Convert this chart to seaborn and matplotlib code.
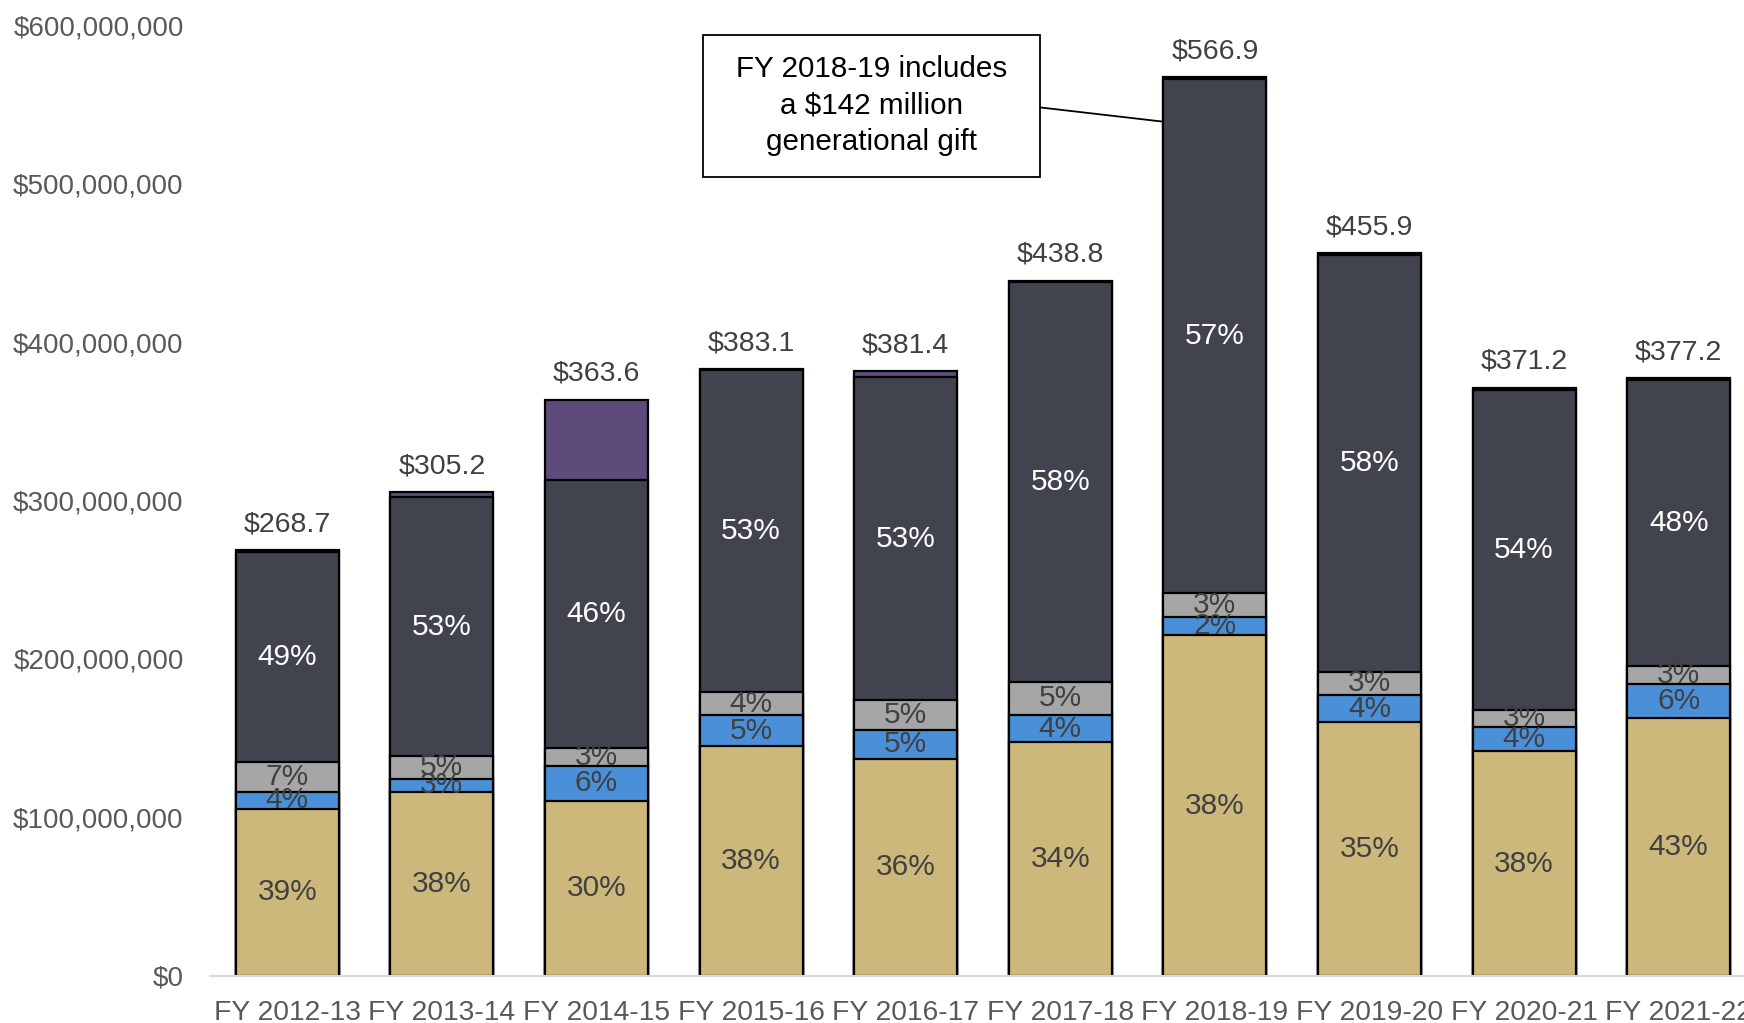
import matplotlib
matplotlib.use("Agg")
import matplotlib.pyplot as plt
from matplotlib.patches import Rectangle
from matplotlib.ticker import FuncFormatter, MultipleLocator
import seaborn as sns
import numpy as np
import pandas as pd

# ---------------- data (millions of dollars) ----------------
years = ["FY 2012-13", "FY 2013-14", "FY 2014-15", "FY 2015-16", "FY 2016-17",
         "FY 2017-18", "FY 2018-19", "FY 2019-20", "FY 2020-21", "FY 2021-22"]
tan_vals = [105.4, 116.0, 110.6, 145.0, 137.0, 147.5, 215.0, 160.0, 141.8, 162.5]
blue_vals = [10.9, 8.6, 22.1, 19.5, 18.5, 17.3, 11.5, 17.3, 15.5, 21.5]
gray_vals = [18.9, 14.0, 11.3, 14.5, 18.5, 21.0, 15.0, 14.7, 10.5, 11.8]
dark_vals = [132.5, 163.6, 168.9, 203.1, 203.9, 252.0, 324.4, 263.1, 201.9, 180.4]
purple_vals = [1.0, 3.0, 50.7, 1.0, 3.5, 1.0, 1.0, 0.8, 1.5, 1.0]

tan_pct = [39, 38, 30, 38, 36, 34, 38, 35, 38, 43]
blue_pct = [4, 3, 6, 5, 5, 4, 2, 4, 4, 6]
gray_pct = [7, 5, 3, 4, 5, 5, 3, 3, 3, 3]
dark_pct = [49, 53, 46, 53, 53, 58, 57, 58, 54, 48]

note_text = "FY 2018-19 includes\na $142 million\ngenerational gift"

# ---------------- styling ----------------
sns.set_style("white")
plt.rcParams["font.family"] = ["Liberation Sans", "DejaVu Sans"]

C_TAN = "#CDB87C"
C_BLUE = "#4A90D9"
C_GRAY = "#A5A6A5"
C_DARK = "#41444F"
C_PURPLE = "#5F4B7B"
TXT_DARK = "#404040"
TXT_TICK = "#595959"

segments = [
    ("tan", tan_vals, C_TAN, tan_pct, TXT_DARK),
    ("blue", blue_vals, C_BLUE, blue_pct, TXT_DARK),
    ("gray", gray_vals, C_GRAY, gray_pct, TXT_DARK),
    ("dark", dark_vals, C_DARK, dark_pct, "white"),
    ("purple", purple_vals, C_PURPLE, None, None),
]

M = 1e6
df = pd.DataFrame({"year": years})
cum = np.zeros(len(years))
bottoms = {}
for name, vals, color, pct, tc in segments:
    bottoms[name] = cum.copy()
    cum = cum + np.array(vals)
    df["cum_" + name] = cum * M
totals = cum

fig = plt.figure(figsize=(17.44, 10.23), dpi=100)
ax = fig.add_axes([210 / 1744, 47 / 1023, 1534 / 1744, 951 / 1023])

BAR_W = 0.667
for name, vals, color, pct, tc in reversed(segments):
    sns.barplot(data=df, x="year", y="cum_" + name, order=years, color=color,
                saturation=1, width=BAR_W, edgecolor="black", linewidth=1.6,
                errorbar=None, ax=ax)

# percentage labels
for name, vals, color, pct, tc in segments:
    if pct is None:
        continue
    for i, (v, p) in enumerate(zip(vals, pct)):
        yc = (bottoms[name][i] + v / 2) * M
        ax.text(i, yc, f"{p}%", ha="center", va="center", fontsize=21.5, color=tc)

# total labels
for i, t in enumerate(totals):
    ax.annotate(f"${t:.1f}", xy=(i, t * M), xytext=(0, 18.5), textcoords="offset points",
                ha="center", va="center", fontsize=20.5, color=TXT_DARK)

# axes formatting
ax.set_xlim(-0.5, -0.5 + 1534 / 154.6)
ax.set_ylim(0, 600 * M)
ax.yaxis.set_major_locator(MultipleLocator(100 * M))
ax.yaxis.set_major_formatter(FuncFormatter(lambda v, p: f"${v:,.0f}"))
ax.set_xlabel("")
ax.set_ylabel("")
for s in ["top", "right", "left"]:
    ax.spines[s].set_visible(False)
ax.spines["bottom"].set_color("#D9D9D9")
ax.spines["bottom"].set_linewidth(1.5)
ax.tick_params(axis="y", length=0, labelsize=20, labelcolor=TXT_TICK, pad=19)
ax.tick_params(axis="x", length=0, labelsize=20.3, labelcolor=TXT_TICK, pad=17)

# annotation box
bx0, bx1 = 2.689, 4.869
by0, by1 = 504 * M, 594 * M
ax.add_patch(Rectangle((bx0, by0), bx1 - bx0, by1 - by0, facecolor="white",
                       edgecolor="black", linewidth=1.3, clip_on=False, zorder=5))
ax.text((bx0 + bx1) / 2, (by0 + by1) / 2, note_text, ha="center", va="center",
        fontsize=21.3, color="black", linespacing=1.38, zorder=6)
ax.plot([bx1, 6 - BAR_W / 2], [548 * M, 539 * M], color="black", linewidth=1.3,
        zorder=5, clip_on=False)

fig.savefig("out.png", dpi=100)
